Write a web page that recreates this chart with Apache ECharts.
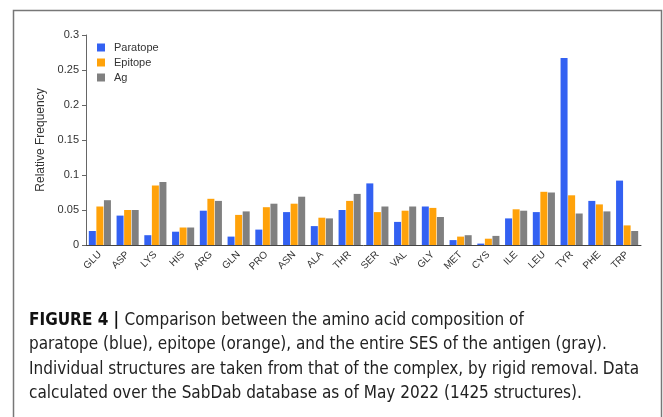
<!DOCTYPE html>
<html>
<head>
<meta charset="utf-8">
<script src="https://cdn.jsdelivr.net/npm/echarts@6/dist/echarts.min.js"></script>
<style>
  html, body { margin: 0; padding: 0; background: #fff; }
  #chart { width: 663px; height: 417px; }
</style>
</head>
<body>
<div id="chart"></div>
<script>
// Amino acids along the x axis
const residues = ['GLU','ASP','LYS','HIS','ARG','GLN','PRO','ASN','ALA','THR',
                  'SER','VAL','GLY','MET','CYS','ILE','LEU','TYR','PHE','TRP'];

// Relative frequency of each residue
const paratope = [0.020,0.042,0.014,0.019,0.049,0.012,0.022,0.047,0.027,0.050,
                  0.088,0.033,0.055,0.007,0.002,0.038,0.047,0.267,0.063,0.092];
const epitope  = [0.055,0.050,0.085,0.025,0.066,0.043,0.054,0.059,0.039,0.063,
                  0.047,0.049,0.053,0.012,0.009,0.051,0.076,0.071,0.058,0.028];
const antigen  = [0.064,0.050,0.090,0.025,0.063,0.048,0.059,0.069,0.038,0.073,
                  0.055,0.055,0.040,0.014,0.013,0.049,0.075,0.045,0.048,0.020];

const seriesNames = ['Paratope', 'Epitope', 'Ag'];
const yTicks = [0, 0.05, 0.1, 0.15, 0.2, 0.25, 0.3];

const captionLines = [
  [{ t: 'FIGURE 4 | ', b: true }, { t: 'Comparison between the amino acid composition of' }],
  [{ t: 'paratope (blue), epitope (orange), and the entire SES of the antigen (gray).' }],
  [{ t: 'Individual structures are taken from that of the complex, by rigid removal. Data' }],
  [{ t: 'calculated over the SabDab database as of May 2022 (1425 structures).' }]
];

const colors = ['#3361f2', '#ffa20a', '#808080'];
const chart = echarts.init(document.getElementById('chart'), null, { renderer: 'canvas' });

const capFont = '"Liberation Sans Narrow", "DejaVu Sans Condensed", "Liberation Sans", sans-serif';
const capGraphics = [];
captionLines.forEach((line, i) => {
  const rich = {
    b: { fontWeight: 'bold', fontFamily: capFont, fontSize: 17, fill: '#111' },
    n: { fontFamily: capFont, fontSize: 17, fill: '#222' }
  };
  const text = line.map(p => '{' + (p.b ? 'b' : 'n') + '|' + p.t + '}').join('');
  capGraphics.push({
    type: 'text', left: 29, top: 312 + i * 24.3,
    style: { text: text, rich: rich, fontFamily: capFont, fontSize: 17 }
  });
});

chart.setOption({
  animation: false,
  textStyle: { fontFamily: '"Liberation Sans", Arial, sans-serif' },
  grid: { left: 86, right: 22, top: 35, height: 210 },
  legend: {
    data: seriesNames, orient: 'vertical', left: 92, top: 37,
    itemWidth: 8, itemHeight: 8, itemGap: 4, icon: 'rect',
    textStyle: { fontSize: 11, color: '#333', padding: [0, 0, 0, 4] }
  },
  xAxis: {
    type: 'category', data: residues,
    axisLine: { lineStyle: { color: '#444', width: 1 } },
    axisTick: { alignWithLabel: true, length: 4, lineStyle: { color: '#666' } },
    axisLabel: { rotate: 45, fontSize: 10, color: '#333', margin: 8, interval: 0 }
  },
  yAxis: {
    type: 'value', min: 0, max: 0.3, interval: 0.05,
    name: 'Relative Frequency', nameLocation: 'middle', nameGap: 39,
    nameTextStyle: { fontSize: 12, color: '#333' },
    axisLine: { show: true, lineStyle: { color: '#666' } },
    axisTick: { show: true, length: 4, lineStyle: { color: '#666' } },
    splitLine: { show: false },
    axisLabel: {
      fontSize: 11, color: '#333', margin: 7,
      formatter: v => { const k = yTicks.find(t => Math.abs(t - v) < 1e-9); return k === undefined ? '' : String(+k.toFixed(2)); }
    }
  },
  series: [paratope, epitope, antigen].map((d, i) => ({
    name: seriesNames[i], type: 'bar', data: d,
    barWidth: 7, barGap: '8%',
    itemStyle: { color: colors[i] }
  })),
  graphic: [
    { type: 'rect', shape: { x: 13.5, y: 10.5, width: 648, height: 420 },
      style: { fill: 'none', stroke: '#777', lineWidth: 1.5 }, silent: true },
    ...capGraphics
  ]
});
</script>
</body>
</html>
